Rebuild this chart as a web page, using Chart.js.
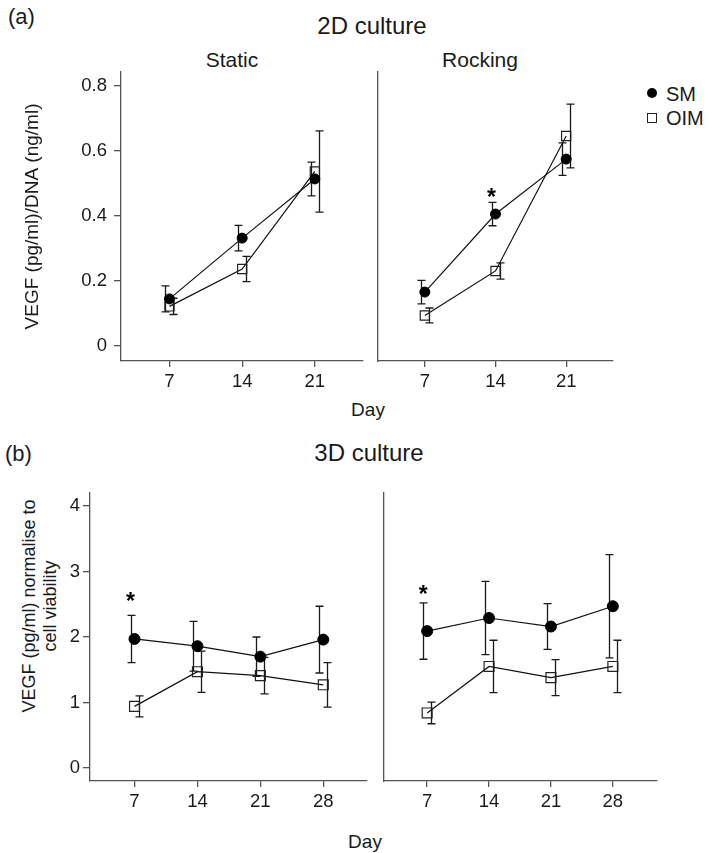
<!DOCTYPE html>
<html><head><meta charset="utf-8">
<script src="https://cdn.jsdelivr.net/npm/chart.js@4.4.1/dist/chart.umd.min.js"></script>
<style>
body{margin:0;background:#fff;width:709px;height:853px;position:relative;overflow:hidden;font-family:"Liberation Sans",Arial,sans-serif;color:#1a1a1a}
canvas{position:absolute}
.t{position:absolute;white-space:nowrap;line-height:1;transform:translate(-50%,-50%)}
.l{position:absolute;white-space:nowrap;line-height:1;transform:translateY(-50%)}
</style></head><body>

<div class="l" style="left:8px;top:17px;font-size:22px">(a)</div>
<div class="t" style="left:372px;top:26px;font-size:24px">2D culture</div>
<div class="t" style="left:232px;top:59px;font-size:21px">Static</div>
<div class="t" style="left:480px;top:59px;font-size:21px">Rocking</div>
<div class="t" style="left:368px;top:409px;font-size:19px">Day</div>

<div class="l" style="left:5px;top:454px;font-size:22px">(b)</div>
<div class="t" style="left:369px;top:453px;font-size:24px">3D culture</div>
<div class="t" style="left:365px;top:841px;font-size:19px">Day</div>
<div style="position:absolute;left:40px;top:606px;transform:translate(-50%,-50%) rotate(-90deg);font-size:18px;line-height:21px;text-align:center;white-space:nowrap">VEGF (pg/ml) normalise to<br>cell viability</div>

<!-- legend -->
<div style="position:absolute;left:647px;top:88px;width:10px;height:10px;border-radius:50%;background:#000"></div>
<div class="l" style="left:666px;top:94px;font-size:20px">SM</div>
<div style="position:absolute;left:647px;top:113px;width:8px;height:8px;border:1.2px solid #222"></div>
<div class="l" style="left:666px;top:118px;font-size:20px">OIM</div>

<canvas id="c2s" width="370" height="340" style="left:0;top:60px"></canvas>
<canvas id="c2r" width="250" height="340" style="left:370px;top:60px"></canvas>
<canvas id="c3s" width="375" height="340" style="left:0;top:480px"></canvas>
<canvas id="c3r" width="290" height="340" style="left:375px;top:480px"></canvas>

<script>
// ---- data ----
const days2D = [7, 14, 21];
const days3D = [7, 14, 21, 28];
const yTicks2D = [0, 0.2, 0.4, 0.6, 0.8];
const yTicks3D = [0, 1, 2, 3, 4];

const static2D_SM      = [0.145, 0.332, 0.514];
const static2D_SM_err  = [0.040, 0.039, 0.052];
const static2D_OIM     = [0.122, 0.237, 0.537];
const static2D_OIM_err = [0.025, 0.039, 0.125];

const rocking2D_SM      = [0.166, 0.406, 0.575];
const rocking2D_SM_err  = [0.036, 0.036, 0.050];
const rocking2D_OIM     = [0.094, 0.231, 0.646];
const rocking2D_OIM_err = [0.023, 0.025, 0.098];

const static3D_SM      = [1.97, 1.86, 1.70, 1.96];
const static3D_SM_err  = [0.36, 0.38, 0.30, 0.51];
const static3D_OIM     = [0.94, 1.47, 1.41, 1.27];
const static3D_OIM_err = [0.16, 0.315, 0.28, 0.34];

const rocking3D_SM      = [2.09, 2.29, 2.16, 2.47];
const rocking3D_SM_err  = [0.43, 0.56, 0.35, 0.79];
const rocking3D_OIM     = [0.84, 1.55, 1.38, 1.55];
const rocking3D_OIM_err = [0.165, 0.40, 0.275, 0.40];

// significance markers (day, value)
const stars2DRocking = [[14, 0.474]];
const stars3DStatic  = [[7, 2.62]];
const stars3DRocking = [[7, 2.74]];

// ---- styling ----
const FONT = '"Liberation Sans", Arial, sans-serif';
const AXIS = '#555555';
const INK = '#1a1a1a';

const errorBars = {
  id: 'errorBars',
  beforeDatasetsDraw(chart) {
    const {ctx} = chart;
    const x = chart.scales.x, y = chart.scales.y;
    chart.data.datasets.forEach(ds => {
      if (!ds.errors) return;
      ctx.save();
      ctx.strokeStyle = INK;
      ctx.lineWidth = 1.3;
      ds.data.forEach((pt, j) => {
        const px = Math.round(x.getPixelForValue(pt.x) + ds.errOffset) + 0.5;
        const top = y.getPixelForValue(pt.y + ds.errors[j]);
        const bot = y.getPixelForValue(pt.y - ds.errors[j]);
        ctx.beginPath();
        ctx.moveTo(px, top); ctx.lineTo(px, bot);
        ctx.moveTo(px - 4, top); ctx.lineTo(px + 4, top);
        ctx.moveTo(px - 4, bot); ctx.lineTo(px + 4, bot);
        ctx.stroke();
      });
      ctx.restore();
    });
  },
  afterDatasetsDraw(chart, args, opts) {
    const stars = opts.stars || [];
    const {ctx} = chart;
    const x = chart.scales.x, y = chart.scales.y;
    ctx.save();
    ctx.fillStyle = '#000';
    ctx.font = 'bold 23px ' + FONT;
    ctx.textAlign = 'center';
    ctx.textBaseline = 'alphabetic';
    stars.forEach(s => {
      ctx.fillText('*', x.getPixelForValue(s[0]) - 4, y.getPixelForValue(s[1]) + 13);
    });
    ctx.restore();
  }
};

function panel(id, p) {
  const pts = arr => p.days.map((d, i) => ({x: d, y: arr[i]}));
  return new Chart(document.getElementById(id), {
    type: 'scatter',
    data: {
      datasets: [
        {label: 'SM', data: pts(p.sm), errors: p.smErr, errOffset: -4,
         showLine: true, borderColor: '#111', borderWidth: 1.2,
         pointStyle: 'circle', pointRadius: p.circleR, pointBackgroundColor: '#000',
         pointBorderColor: '#000', pointBorderWidth: 1},
        {label: 'OIM', data: pts(p.oim), errors: p.oimErr, errOffset: 4,
         showLine: true, borderColor: '#111', borderWidth: 1.2,
         pointStyle: 'rect', pointRadius: p.rectR, pointBackgroundColor: 'rgba(0,0,0,0)',
         pointBorderColor: '#222', pointBorderWidth: 1.2}
      ]
    },
    options: {
      responsive: false, animation: false, devicePixelRatio: 1,
      layout: {padding: {top: p.padTop, right: p.padRight, left: 0, bottom: 0}},
      plugins: {legend: {display: false}, tooltip: {enabled: false}, errorBars: {stars: p.stars}},
      scales: {
        x: {
          type: 'linear', min: p.xmin, max: p.xmax,
          afterBuildTicks: s => { s.ticks = p.days.map(v => ({value: v})); },
          afterFit: s => { s.height = 39; s.paddingLeft = 0; s.paddingRight = 0; },
          grid: {display: true, drawOnChartArea: false, drawTicks: true, tickLength: 6, color: AXIS, lineWidth: 1.3},
          border: {display: true, color: AXIS, width: 1.3},
          ticks: {font: {family: FONT, size: 18.5}, color: INK, padding: 4, maxRotation: 0, autoSkip: false,
                  callback: v => String(v)}
        },
        y: {
          type: 'linear', min: p.ymin, max: p.ymax,
          afterBuildTicks: s => { s.ticks = p.yTicks.map(v => ({value: v})); },
          afterFit: s => { s.width = p.yW; s.paddingTop = 0; s.paddingBottom = 0; },
          grid: p.showY ? {display: true, drawOnChartArea: false, drawTicks: true, tickLength: 7, color: AXIS, lineWidth: 1.3}
                        : {display: false},
          border: {display: true, color: AXIS, width: 1.3},
          ticks: {display: p.showY, font: {family: FONT, size: 18.5}, color: INK, padding: p.yPad,
                  callback: v => String(v)},
          title: p.yTitle ? {display: true, text: p.yTitle, font: {family: FONT, size: 19}, color: INK,
                             padding: {top: 21, bottom: 0}} : {display: false}
        }
      }
    },
    plugins: [errorBars]
  });
}

panel('c2s', {days: days2D, sm: static2D_SM, smErr: static2D_SM_err, oim: static2D_OIM, oimErr: static2D_OIM_err,
  xmin: 2.33, xmax: 25.57, ymin: -0.046, ymax: 0.843, yTicks: yTicks2D, showY: true, yW: 121, yPad: 7,
  padTop: 12, padRight: 5, circleR: 5, rectR: 6.5, stars: [], yTitle: 'VEGF (pg/ml)/DNA (ng/ml)'});
panel('c2r', {days: days2D, sm: rocking2D_SM, smErr: rocking2D_SM_err, oim: rocking2D_OIM, oimErr: rocking2D_OIM_err,
  xmin: 2.33, xmax: 25.57, ymin: -0.046, ymax: 0.843, yTicks: yTicks2D, showY: false, yW: 3, yPad: 0,
  padTop: 12, padRight: 3, circleR: 5, rectR: 6.5, stars: stars2DRocking});
panel('c3s', {days: days3D, sm: static3D_SM, smErr: static3D_SM_err, oim: static3D_OIM, oimErr: static3D_OIM_err,
  xmin: 2.05, xmax: 32.84, ymin: -0.2, ymax: 4.2, yTicks: yTicks3D, showY: true, yW: 90, yPad: 3,
  padTop: 13, padRight: 5, circleR: 5.5, rectR: 7, stars: stars3DStatic});
panel('c3r', {days: days3D, sm: rocking3D_SM, smErr: rocking3D_SM_err, oim: rocking3D_OIM, oimErr: rocking3D_OIM_err,
  xmin: 2.03, xmax: 32.97, ymin: -0.2, ymax: 4.2, yTicks: yTicks3D, showY: false, yW: 3, yPad: 0,
  padTop: 13, padRight: 7, circleR: 5.5, rectR: 7, stars: stars3DRocking});
</script>
</body></html>
